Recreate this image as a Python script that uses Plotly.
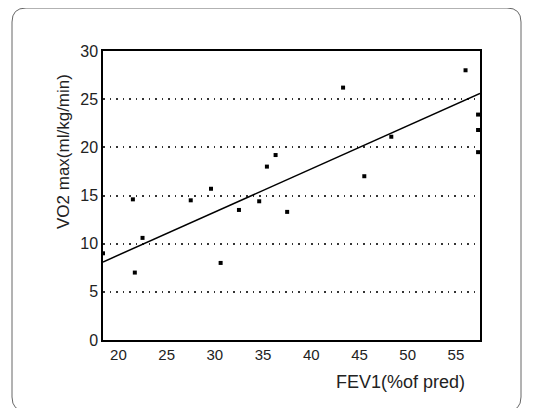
import plotly.graph_objects as go

# Data
fev1 = [18.4, 21.5, 21.7, 22.5, 27.5, 29.6, 30.6, 32.5, 34.6, 35.4, 36.3, 37.5,
        43.3, 45.5, 48.3, 56.0, 57.3, 57.3, 57.3]
vo2 = [9.0, 14.6, 7.0, 10.6, 14.5, 15.7, 8.0, 13.5, 14.4, 18.0, 19.2, 13.3,
       26.2, 17.0, 21.1, 28.0, 23.4, 21.8, 19.5]
fit_x = [18.4, 57.5]
fit_y = [8.1, 25.6]
x_ticks = [20, 25, 30, 35, 40, 45, 50, 55]
y_ticks = [0, 5, 10, 15, 20, 25, 30]

# page body has an 8px margin, so the figure is drawn 8px smaller/offset
OFF = 8
W, H = 536 - OFF, 408 - OFF
L, R, T, B = 103 - OFF, 480 - OFF, 51 - OFF, 340 - OFF

fig = go.Figure()
fig.add_trace(go.Scatter(x=fit_x, y=fit_y, mode="lines",
                         line=dict(color="black", width=1.5), showlegend=False,
                         cliponaxis=False))
fig.add_trace(go.Scatter(x=fev1, y=vo2, mode="markers",
                         marker=dict(symbol="square", size=4, color="black"),
                         showlegend=False, cliponaxis=False))

def px(x):
    return (x - OFF - L) / (R - L)

def py(y):
    return (B - (y - OFF)) / (B - T)

x0, x1, y0, y1, r = 12, 521, 8, 411, 14
path = (f"M {px(x0+r)},{py(y0)} L {px(x1-r)},{py(y0)} Q {px(x1)},{py(y0)} {px(x1)},{py(y0+r)} "
        f"L {px(x1)},{py(y1-r)} Q {px(x1)},{py(y1)} {px(x1-r)},{py(y1)} "
        f"L {px(x0+r)},{py(y1)} Q {px(x0)},{py(y1)} {px(x0)},{py(y1-r)} "
        f"L {px(x0)},{py(y0+r)} Q {px(x0)},{py(y0)} {px(x0+r)},{py(y0)} Z")

fig.update_layout(
    width=W, height=H,
    margin=dict(l=L, r=W - R, t=T, b=H - B),
    paper_bgcolor="white", plot_bgcolor="white",
    font=dict(family="Liberation Sans, Arial, sans-serif", color="#222", size=15),
    shapes=[dict(type="path", xref="paper", yref="paper", path=path,
                 line=dict(color="#666", width=1), layer="below")],
    annotations=[
        dict(text="FEV1(%of pred)", xref="paper", yref="paper",
             x=px(467), y=py(382), xanchor="right", yanchor="middle",
             showarrow=False, font=dict(size=18, color="#222")),
        dict(text="VO2 max(ml/kg/min)", xref="paper", yref="paper",
             x=px(63), y=py(152), xanchor="center", yanchor="middle",
             textangle=-90, showarrow=False, font=dict(size=17, color="#222")),
    ],
)
fig.update_xaxes(range=[18.4, 57.5], tickvals=x_ticks, showgrid=False,
                 showline=True, linecolor="black", linewidth=1.5, mirror=True,
                 zeroline=False, ticks="", tickfont=dict(size=15))
fig.update_yaxes(range=[0, 30], tickvals=y_ticks, showgrid=True,
                 gridcolor="#333", griddash="1.5px,5px", gridwidth=1.5,
                 showline=True, linecolor="black", linewidth=1.5, mirror=True,
                 zeroline=False, ticks="", tickfont=dict(size=16))

fig.write_html("out.html")
